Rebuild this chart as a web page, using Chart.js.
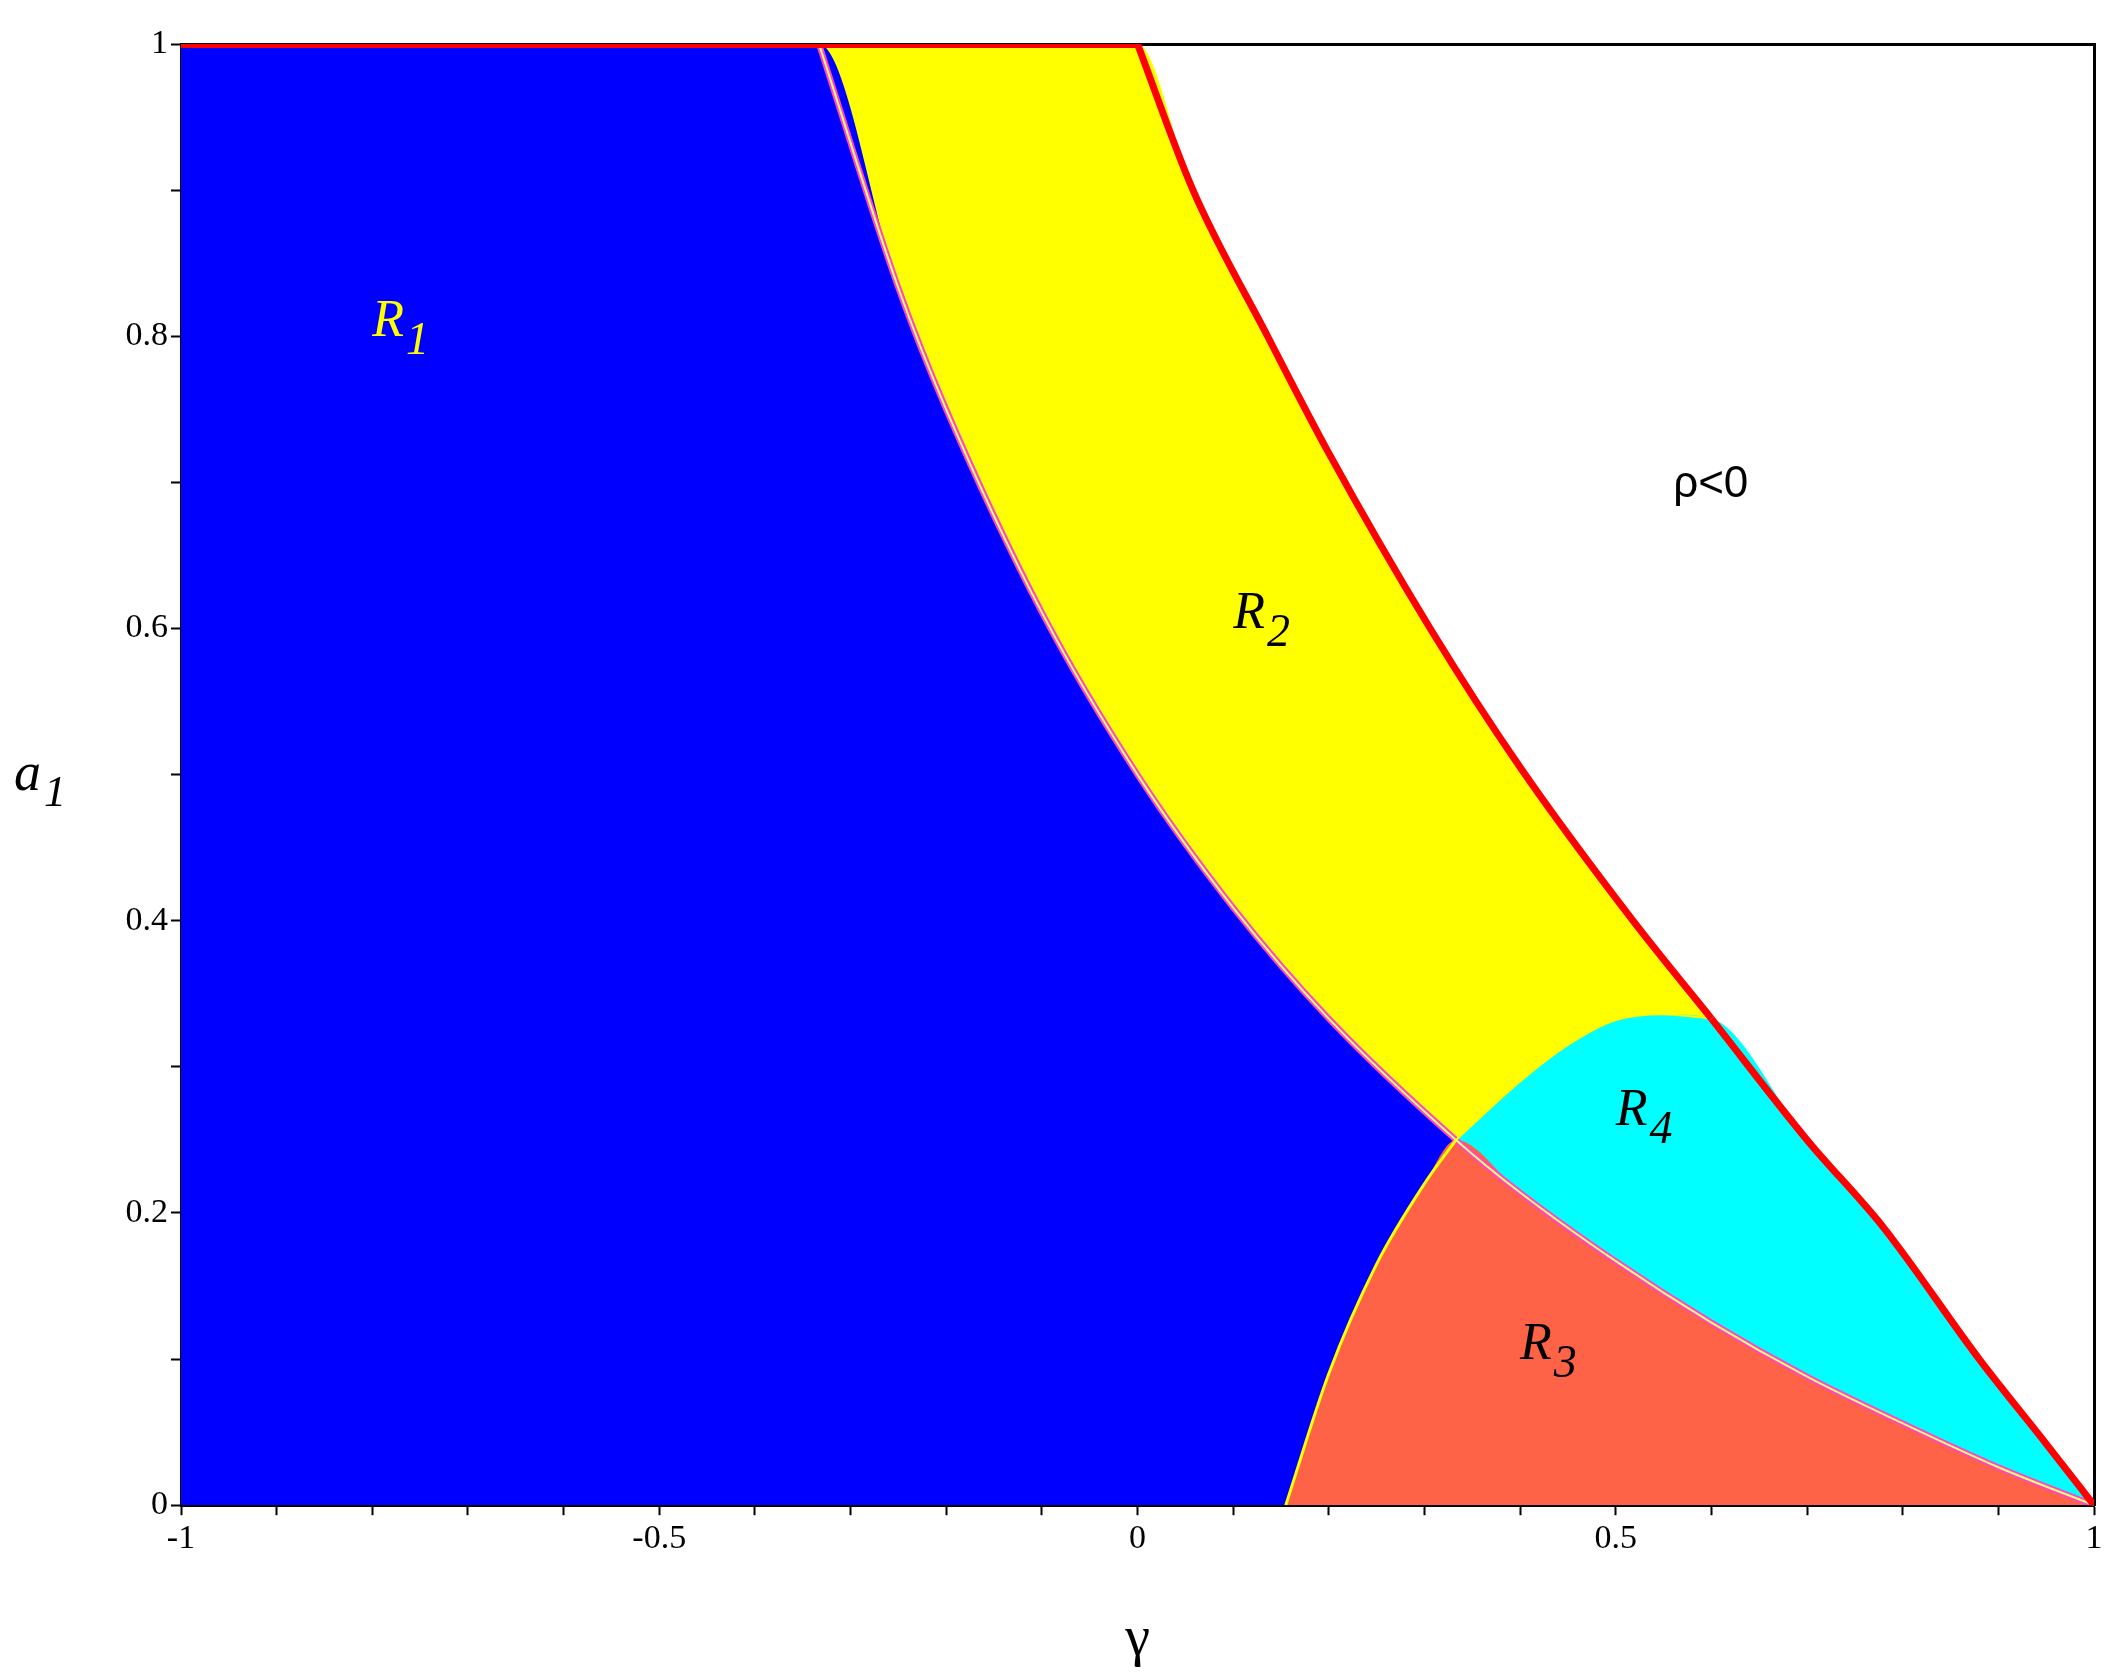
<!DOCTYPE html>
<html><head><meta charset="utf-8">
<script src="https://cdn.jsdelivr.net/npm/chart.js@4/dist/chart.umd.min.js"></script>
<style>html,body{margin:0;background:#fff}#wrap{width:2120px;height:1674px}</style>
</head><body><div id="wrap"><canvas id="c"></canvas></div>
<script>
// boundary curves, [gamma, a1]
const outerTop = [[-1,1],[0,1]];
const outerCurve = [[0,1],[0.058,0.9],[0.136,0.8],[0.2,0.72],[0.306,0.6],[0.4,0.505],[0.518,0.4],[0.6,0.333]];
const outerTail = [[0.6,0.333],[0.7,0.25],[0.78,0.19],[0.88,0.1],[0.95,0.042],[1,0]];
const innerCurve = [[-0.333,1],[-0.25,0.833],[-0.2,0.75],[-0.1,0.611],[0,0.5],[0.1,0.409],[0.2,0.333],[0.333,0.25],[0.4,0.214],[0.5,0.167],[0.6,0.125],[0.7,0.088],[0.8,0.056],[0.9,0.026],[1,0]];
const cyanCurve = [[0.333,0.25],[0.4,0.29],[0.45,0.315],[0.5,0.332],[0.55,0.336],[0.6,0.333]];
const r3Curve = [[0.155,0],[0.2,0.09],[0.25,0.165],[0.3,0.22],[0.333,0.25]];
const xTicks = [-1,-0.5,0,0.5,1];
const yTicks = [0,0.2,0.4,0.6,0.8,1];
const labels = [
  {t:'R',s:'1',x:-0.8,y:0.8,c:'#ffff00'},
  {t:'R',s:'2',x:0.1,y:0.6,c:'#000'},
  {t:'R',s:'3',x:0.4,y:0.1,c:'#000'},
  {t:'R',s:'4',x:0.5,y:0.26,c:'#000'},
];

const pts = a => a.map(p => ({x:p[0], y:p[1]}));
const after = (a, x0) => a.filter(p => p[0] > x0 + 1e-9);

const r1Top = [[-1,1]].concat(innerCurve);
const r2Top = [[-0.333,1]].concat(outerCurve);
const r4Top = cyanCurve.concat(after(outerTail, 0.6));
const r3Top = r3Curve.concat(after(innerCurve, 0.333));

function area(data, color, order) {
  return {data: pts(data), showLine:true, fill:'origin', backgroundColor:color, borderWidth:0, pointRadius:0, order:order, cubicInterpolationMode:'monotone'};
}
function line(data, color, w, order) {
  return {data: pts(data), showLine:true, fill:false, borderColor:color, borderWidth:w, pointRadius:0, order:order, cubicInterpolationMode:'monotone'};
}

const textPlugin = {
  id:'texts',
  afterDraw(chart) {
    const {ctx, scales:{x, y}} = chart;
    ctx.save();
    labels.forEach(l => {
      const px = x.getPixelForValue(l.x), py = y.getPixelForValue(l.y);
      ctx.fillStyle = l.c;
      ctx.font = 'italic 52px "Liberation Serif"';
      ctx.textBaseline = 'alphabetic';
      ctx.fillText(l.t, px, py);
      const w = ctx.measureText(l.t).width;
      ctx.font = 'italic 46px "Liberation Serif"';
      ctx.fillText(l.s, px + w + 2, py + 18);
    });
    ctx.fillStyle = '#000';
    ctx.font = '44px "Liberation Sans"';
    ctx.fillText('ρ<0', x.getPixelForValue(0.56), y.getPixelForValue(0.69));
    ctx.font = '56px "Liberation Serif"';
    ctx.textAlign = 'center';
    ctx.fillText('γ', x.getPixelForValue(0), 1655);
    ctx.textAlign = 'left';
    ctx.font = 'italic 54px "Liberation Serif"';
    ctx.fillText('a', 14, 790);
    ctx.font = 'italic 44px "Liberation Serif"';
    ctx.fillText('1', 44, 806);
    ctx.restore();
  }
};

new Chart(document.getElementById('c'), {
  type:'scatter',
  data:{datasets:[
    area(r2Top, '#ffff00', 10),
    area(r4Top, '#00ffff', 9),
    area(r1Top, '#0000ff', 8),
    area(r3Top, '#ff6347', 7),
    line(innerCurve, '#ff44cc', 6, 5),
    line(innerCurve, '#ffff66', 2, 4),
    line(r3Curve, '#ffff00', 3, 4),
    line(cyanCurve, '#ffff00', 2, 4),
    line(outerTop, '#ff0000', 8, 1),
    line(outerCurve, '#ff0000', 7, 1),
    line(outerTail, '#ff0000', 7, 1),
  ]},
  options:{
    responsive:true, maintainAspectRatio:false, animation:false,
    layout:{padding:{left:0, right:18, top:36, bottom:112}},
    plugins:{legend:{display:false}, tooltip:{enabled:false}},
    scales:{
      x:{type:'linear', min:-1, max:1,
        afterBuildTicks: s => { s.ticks = []; for (let i = -10; i <= 10; i++) s.ticks.push({value:i/10}); },
        ticks:{font:{family:'Liberation Serif', size:34}, color:'#000', maxRotation:0, autoSkip:false,
          callback: v => xTicks.some(t => Math.abs(t - v) < 1e-6) ? String(Math.round(v*10)/10) : ''},
        grid:{drawOnChartArea:false, color:'#000', tickLength:10, tickWidth:2},
        border:{color:'#000', width:3}},
      y:{min:0, max:1,
        afterBuildTicks: s => { s.ticks = []; for (let i = 0; i <= 10; i++) s.ticks.push({value:i/10}); },
        afterFit: s => { s.width = 181; },
        ticks:{font:{family:'Liberation Serif', size:34}, color:'#000', autoSkip:false,
          callback: v => yTicks.some(t => Math.abs(t - v) < 1e-6) ? String(Math.round(v*10)/10) : ''},
        grid:{drawOnChartArea:false, color:'#000', tickLength:10, tickWidth:2},
        border:{color:'#000', width:3}},
      x2:{type:'linear', position:'top', min:-1, max:1, ticks:{display:false}, grid:{display:false}, border:{color:'#000', width:3}},
      y2:{position:'right', min:0, max:1, ticks:{display:false}, grid:{display:false}, border:{color:'#000', width:3}}
    }
  },
  plugins:[textPlugin]
});
</script></body></html>
